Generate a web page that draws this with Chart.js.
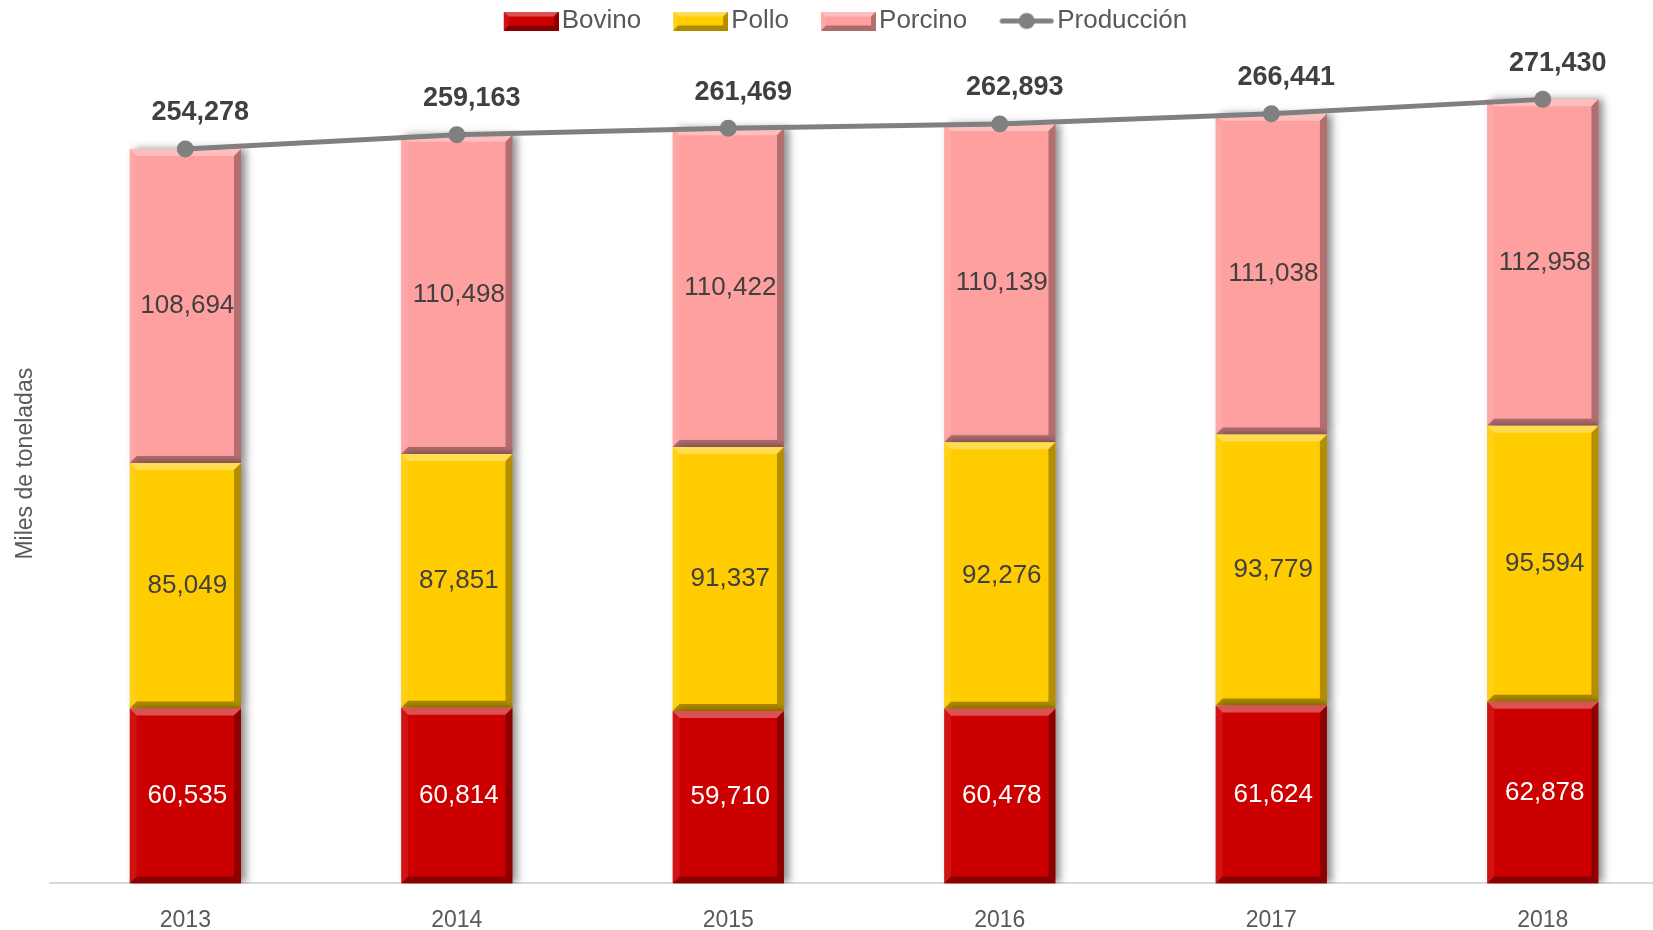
<!DOCTYPE html>
<html lang="es">
<head>
<meta charset="utf-8">
<title>Producción de carne</title>
<script src="https://cdn.jsdelivr.net/npm/chart.js@4.4.1/dist/chart.umd.min.js"></script>
<style>
    html, body { margin: 0; padding: 0; background: #fff; overflow: hidden; }
    #wrap { position: relative; width: 1653px; height: 930px; overflow: hidden; }
    #chartProduccion { position: absolute; left: -22px; top: 0; }
</style>
</head>
<body>
<div id="wrap"><canvas id="chartProduccion" width="1709" height="957"></canvas></div>
<script>
const years = ['2013', '2014', '2015', '2016', '2017', '2018'];
const bovino = [60535, 60814, 59710, 60478, 61624, 62878];
const pollo = [85049, 87851, 91337, 92276, 93779, 95594];
const porcino = [108694, 110498, 110422, 110139, 111038, 112958];
const produccion = [254278, 259163, 261469, 262893, 266441, 271430];

const FONT = '"Liberation Sans", Arial, sans-serif';
const Y_MAX = 290600;

Chart.defaults.font.family = FONT;

// bevel look like the office chart: light top, dark right/bottom edge
function bevelRect(ctx, l, t, r, b, size) {
    const s = Math.min(size, (b - t) / 2, (r - l) / 2);
    const face = (pts, color) => {
        ctx.beginPath();
        ctx.moveTo(pts[0][0], pts[0][1]);
        for (let i = 1; i < pts.length; i++) ctx.lineTo(pts[i][0], pts[i][1]);
        ctx.closePath();
        ctx.fillStyle = color;
        ctx.fill();
    };
    face([[l, t], [r, t], [r - s, t + s], [l + s, t + s]], 'rgba(255,255,255,0.32)');
    face([[l, t], [l + s, t + s], [l + s, b - s], [l, b]], 'rgba(255,255,255,0.08)');
    face([[r, t], [r, b], [r - s, b - s], [r - s, t + s]], 'rgba(0,0,0,0.30)');
    face([[l, b], [r, b], [r - s, b - s], [l + s, b - s]], 'rgba(0,0,0,0.32)');
}

function legendSwatch(color) {
    const c = document.createElement('canvas');
    c.width = 91; c.height = 19;
    const g = c.getContext('2d');
    g.fillStyle = color;
    g.fillRect(36, 0, 55, 19);
    bevelRect(g, 36, 0, 91, 19, 5);
    return c;
}

function legendLine() {
    const c = document.createElement('canvas');
    c.width = 91; c.height = 19;
    const g = c.getContext('2d');
    g.strokeStyle = '#808080';
    g.lineWidth = 5;
    g.lineCap = 'round';
    g.beginPath(); g.moveTo(39, 9.5); g.lineTo(88, 9.5); g.stroke();
    g.fillStyle = '#808080';
    g.beginPath(); g.arc(63.5, 9.5, 8, 0, Math.PI * 2); g.fill();
    return c;
}

const legendIcons = [legendSwatch('#CC0000'), legendSwatch('#FFCC00'), legendSwatch('#FFA0A0'), legendLine()];

const bevelPlugin = {
    id: 'bevel',
    beforeDatasetDraw(chart, args) {
        if (args.meta.type !== 'bar') return;
        const ctx = chart.ctx;
        ctx.save();
        ctx.shadowColor = 'rgba(0,0,0,0.45)';
        ctx.shadowBlur = 8;
        ctx.shadowOffsetX = 5;
        ctx.shadowOffsetY = 0;
    },
    afterDatasetDraw(chart, args) {
        if (args.meta.type !== 'bar') return;
        const ctx = chart.ctx;
        ctx.restore();
        ctx.save();
        args.meta.data.forEach(bar => {
            const p = bar.getProps(['x', 'y', 'base', 'width'], true);
            bevelRect(ctx, p.x - p.width / 2, Math.min(p.y, p.base), p.x + p.width / 2, Math.max(p.y, p.base), 7);
        });
        ctx.restore();
    }
};

const valueLabelsPlugin = {
    id: 'valueLabels',
    afterDatasetsDraw(chart) {
        const ctx = chart.ctx;
        ctx.save();
        ctx.textAlign = 'center';
        ctx.textBaseline = 'middle';
        chart.data.datasets.forEach((ds, i) => {
            const meta = chart.getDatasetMeta(i);
            meta.data.forEach((el, j) => {
                const text = ds.data[j].toLocaleString('en-US');
                if (meta.type === 'bar') {
                    const p = el.getProps(['x', 'y', 'base'], true);
                    ctx.font = '26px ' + FONT;
                    ctx.fillStyle = ds.labelColor;
                    ctx.fillText(text, p.x + 2, (p.y + p.base) / 2);
                } else {
                    ctx.font = 'bold 27px ' + FONT;
                    ctx.fillStyle = '#404040';
                    ctx.fillText(text, el.x + 15, el.y - 36);
                }
            });
        });
        ctx.restore();
    }
};

new Chart(document.getElementById('chartProduccion'), {
    type: 'bar',
    data: {
        labels: years,
        datasets: [
            { label: 'Bovino', data: bovino, backgroundColor: '#CC0000', labelColor: '#FFFFFF', order: 1, barPercentage: 0.41, categoryPercentage: 1 },
            { label: 'Pollo', data: pollo, backgroundColor: '#FFCC00', labelColor: '#404040', order: 1, barPercentage: 0.41, categoryPercentage: 1 },
            { label: 'Porcino', data: porcino, backgroundColor: '#FFA0A0', labelColor: '#404040', order: 1, barPercentage: 0.41, categoryPercentage: 1 },
            {
                type: 'line', label: 'Producción', data: produccion, stack: 'total', order: 0,
                borderColor: '#808080', backgroundColor: '#808080', borderWidth: 5,
                pointRadius: 8.5, pointBackgroundColor: '#808080', pointBorderWidth: 0, tension: 0
            }
        ]
    },
    options: {
        responsive: false,
        animation: false,
        devicePixelRatio: 1,
        layout: { padding: { top: 2 } },
        plugins: {
            tooltip: { enabled: false },
            legend: {
                position: 'top',
                labels: {
                    usePointStyle: true,
                    pointStyleWidth: 71,
                    boxHeight: 19,
                    padding: 6,
                    color: '#595959',
                    font: { size: 26, family: FONT },
                    sort: (a, b) => a.datasetIndex - b.datasetIndex,
                    generateLabels(chart) {
                        const items = Chart.defaults.plugins.legend.labels.generateLabels(chart);
                        items.forEach(it => { it.pointStyle = legendIcons[it.datasetIndex]; });
                        return items;
                    }
                }
            }
        },
        scales: {
            x: {
                stacked: true,
                grid: { display: false, drawTicks: false },
                border: { display: true, color: '#D9D9D9', width: 2 },
                ticks: { color: '#595959', font: { size: 23 }, padding: 23 }
            },
            y: {
                stacked: true,
                min: 0,
                max: Y_MAX,
                grid: { display: false, drawTicks: false },
                border: { display: false },
                ticks: { display: false },
                title: {
                    display: true,
                    text: 'Miles de toneladas',
                    color: '#595959',
                    font: { size: 23 },
                    padding: { top: 34, bottom: 10 }
                }
            }
        }
    },
    plugins: [bevelPlugin, valueLabelsPlugin]
});
</script>
</body>
</html>
